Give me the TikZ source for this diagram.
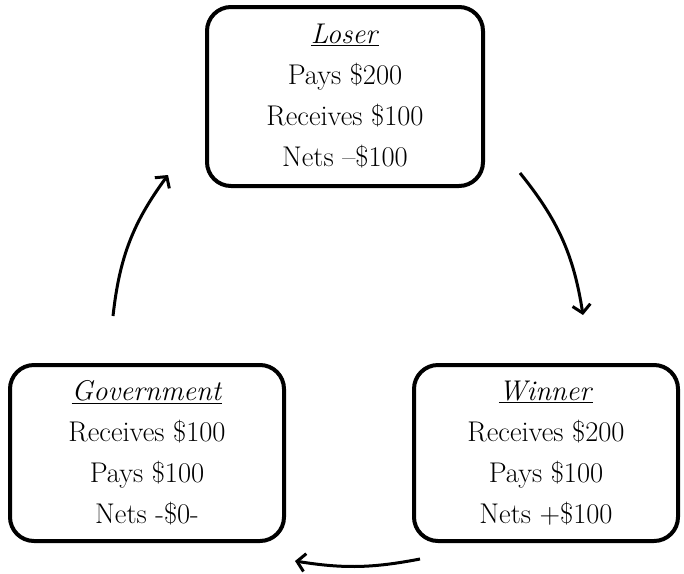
\documentclass[tikz,border=0pt]{standalone}
\usetikzlibrary{arrows.meta}
\begin{document}
\begin{tikzpicture}[x=1pt,y=-1pt,
  box/.style={draw=black, line width=4pt, rounded corners=24pt, align=center,
    inner sep=0pt, font=\fontsize{28.5}{41}\selectfont},
  flow/.style={line width=3pt, -{Straight Barb[length=8pt,width=18pt,line width=3pt]}}]
\useasboundingbox (0,0) rectangle (684,573);
\node[box, minimum width=276pt, minimum height=179pt] (loser) at (345,96.5)
  {\underline{\textit{Loser}}\\Pays \$200\\Receives \$100\\Nets --\$100};
\node[box, minimum width=274pt, minimum height=176pt] (gov) at (147,453)
  {\underline{\textit{Government}}\\Receives \$100\\Pays \$100\\Nets -\$0-};
\node[box, minimum width=264pt, minimum height=176pt] (win) at (546,453)
  {\underline{\textit{Winner}}\\Receives \$200\\Pays \$100\\Nets +\$100};
\coordinate (a1s) at (520,173);
\coordinate (a1e) at (583,315);
\coordinate (a2s) at (420,559);
\coordinate (a2e) at (295,561);
\coordinate (a3s) at (113,316);
\coordinate (a3e) at (168,175);
\draw[flow] (a1s) to[bend left=15] (a1e);
\draw[flow] (a2s) to[bend left=10] (a2e);
\draw[flow] (a3s) to[bend left=15] (a3e);
\end{tikzpicture}
\end{document}
